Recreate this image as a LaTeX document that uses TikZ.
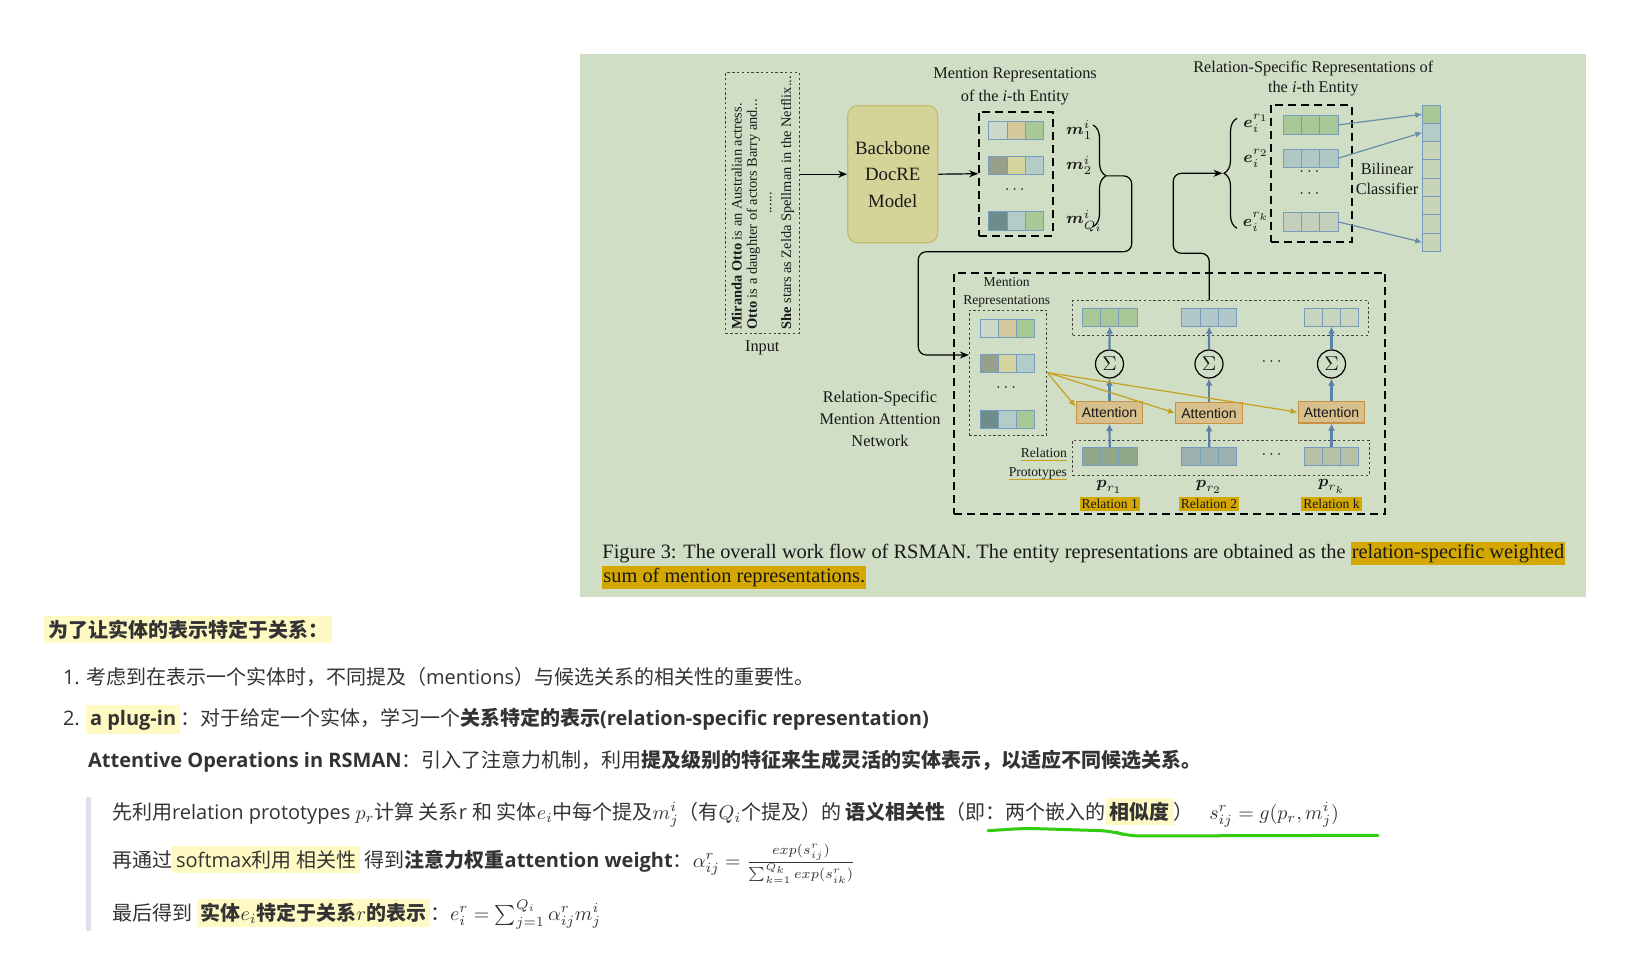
\documentclass[tikz,border=0pt]{standalone}
\usepackage[no-math]{fontspec}
\usepackage{amsmath,amssymb}
\usepackage{tikz}
\usepackage{xcolor}
\setmainfont{Liberation Serif}
\setsansfont{Liberation Sans}
\newfontfamily\osans{Open Sans}
\newfontfamily\cjk{Noto Sans CJK SC}
\usetikzlibrary{arrows.meta,positioning,decorations.pathreplacing}

\definecolor{panelbg}{RGB}{207,222,196}
\definecolor{figtext}{RGB}{25,25,25}
\definecolor{backfill}{RGB}{213,212,152}
\definecolor{backline}{RGB}{196,188,112}
\definecolor{cellline}{RGB}{120,156,190}
\definecolor{attnfill}{RGB}{216,192,140}
\definecolor{attnline}{RGB}{200,146,70}
\definecolor{bluearr}{RGB}{90,130,168}
\definecolor{thinblue}{RGB}{106,140,173}
\definecolor{goldarr}{RGB}{200,160,32}
\definecolor{capgold}{RGB}{212,168,0}
\definecolor{hlyellow}{RGB}{255,249,196}
\definecolor{quotebar}{RGB}{222,224,240}
\definecolor{bodytext}{RGB}{51,51,51}
\definecolor{markgreen}{RGB}{52,204,16}
% cell colours
\definecolor{mgray}{RGB}{204,216,200}
\definecolor{mtan}{RGB}{212,200,156}
\definecolor{mgreen}{RGB}{168,200,152}
\definecolor{molive}{RGB}{152,160,140}
\definecolor{myellow}{RGB}{212,212,156}
\definecolor{mblue}{RGB}{180,204,200}
\definecolor{mteal}{RGB}{110,140,140}
\definecolor{vgreen}{RGB}{168,200,152}
\definecolor{vblue}{RGB}{176,200,200}
\definecolor{vpale}{RGB}{200,214,192}
\definecolor{eblue}{RGB}{176,200,196}
\definecolor{epale}{RGB}{196,208,188}
\definecolor{clspale}{RGB}{200,212,184}
\definecolor{pgreen}{RGB}{144,168,136}
\definecolor{pblue}{RGB}{156,176,176}
\definecolor{pgray}{RGB}{184,192,168}

% three-cell embedding: name, centre, left/middle/right fill
\newcommand{\trivec}[5]{%
  \node[cell, fill=#4] (#1-2) at (#2) {};
  \node[cell, fill=#3, left=0pt of #1-2] (#1-1) {};
  \node[cell, fill=#5, right=0pt of #1-2] (#1-3) {};}
\newcommand{\capmark}[1]{{\setlength{\fboxsep}{0.5pt}\colorbox{capgold}{\strut #1}}}
\newcommand{\hly}[1]{{\setlength{\fboxsep}{2pt}\colorbox{hlyellow}{\vphantom{\cjk 国}#1}}}
\newsavebox{\gulbox}
\newcommand{\gul}[1]{\sbox\gulbox{#1}\rlap{\color{goldarr}\rule[-1.8pt]{\wd\gulbox}{0.7pt}}\usebox\gulbox}

\begin{document}
\begin{tikzpicture}[x=0.5pt, y=-0.5pt,
    every node/.style={font=\fontsize{8.15}{10}\selectfont, text=figtext},
    cell/.style={draw=cellline, line width=0.5pt, minimum width=9.15pt, minimum height=9.15pt, inner sep=0pt, outer sep=0pt},
    dashbox/.style={draw=black, line width=0.9pt, dash pattern=on 4pt off 2.5pt},
    dotbox/.style={draw=black!75, line width=0.5pt, dash pattern=on 1.2pt off 1.2pt},
    sent/.style={rotate=90, inner sep=0pt, font=\fontsize{7.2}{8}\selectfont},
    attn/.style={draw=attnline, fill=attnfill, line width=0.6pt, minimum width=33.3pt, minimum height=10.8pt, inner sep=0pt, font=\sffamily\fontsize{7}{8}\selectfont},
    sumnode/.style={circle, draw, line width=0.6pt, minimum size=14pt, inner sep=0pt, font=\fontsize{10}{10}\selectfont},
    relbox/.style={fill=capgold, inner sep=1pt, font=\fontsize{6.8}{8}\selectfont},
    upflow/.style={-{Latex[length=3.5pt,width=3.5pt]}, line width=1.1pt, draw=bluearr},
    toattn/.style={-{Latex[length=3.5pt,width=3pt]}, line width=0.6pt, draw=goldarr},
    tocls/.style={-{Latex[length=3.5pt,width=3pt]}, line width=0.6pt, draw=thinblue},
    link/.style={-{Stealth[length=4.5pt,width=3.5pt]}, line width=0.6pt, rounded corners=4pt},
    body/.style={anchor=base west, inner sep=0pt, text=bodytext, font=\osans\fontsize{10}{12.5}\selectfont}]

    \fill[white] (0,0) rectangle (1637,957);
    \fill[panelbg] (580,54) rectangle (1586,597);

    % input document
    \node[dotbox, minimum width=36.7pt, minimum height=130.3pt] (inbox) at (762.3,203) {};
    \node[below=0pt of inbox] (inlbl) {Input};
    \node[sent, anchor=west] (sent1) at (736.7,330) {\textbf{Miranda Otto} is an Australian actress.};
    \node[sent, anchor=west] (sent2) at (753.3,330) {\textbf{Otto} is a daughter of actors Barry and...};
    \node[sent] (sentdots) at (770.7,203) {......};
    \node[sent, anchor=west] (sent3) at (787.7,330) {\textbf{She} stars as Zelda Spellman in the Netflix...};

    % backbone and mention representations
    \node[draw=backline, fill=backfill, rounded corners=5pt, line width=0.6pt, minimum width=45pt, minimum height=68.5pt, align=center, font=\fontsize{9.4}{13.3}\selectfont] (backbone) at (892.7,174.2) {Backbone\\DocRE\\Model};
    \node[dashbox, minimum width=36.85pt, minimum height=62pt] (mbox) at (1015.9,173.7) {};
    \node[align=center, font=\fontsize{8.15}{11.3}\selectfont] (mtitle) at (1015,86.5) {Mention Representations\\of the \textit{i}-th Entity};
    \trivec{m1}{1016.2,130.2}{mgray}{mtan}{mgreen}
    \trivec{m2}{1016.2,165.5}{molive}{myellow}{mblue}
    \node (mdots) at (1016.2,190) {$\cdots$};
    \trivec{mq}{1016.2,220.9}{mteal}{mblue}{mgreen}
    \node[anchor=west] (m1l) at (1059,130.2) {$\boldsymbol{m}_1^i$};
    \node[anchor=west] (m2l) at (1059,165.5) {$\boldsymbol{m}_2^i$};
    \node[anchor=west] (mql) at (1059,220.9) {$\boldsymbol{m}_{Q_i}^i$};
    \draw[decorate, decoration={brace, amplitude=6.5pt}, line width=0.6pt] (1093,125) -- (1093,226.7);
    \coordinate (mtip) at (1107,175.9);

    \draw[link] (inbox.east |- backbone.west) -- (backbone.west);
    \draw[link] (backbone.east) -- (mbox.west);

    % relation-specific mention attention network
    \node[dashbox, minimum width=215.5pt, minimum height=120.8pt] (rsman) at (1169.5,393.5) {};
    \node[align=center, font=\fontsize{8.15}{10.85}\selectfont] (rsmanlbl) at (880,419) {Relation-Specific\\Mention Attention\\Network};
    \node[align=center, font=\fontsize{6.8}{9.2}\selectfont] (mrtitle) at (1006.7,292.5) {Mention\\Representations};
    \node[dotbox, minimum width=38.7pt, minimum height=62.5pt] (mrbox) at (1008,372.5) {};
    \trivec{r1}{1007.5,328.2}{mgray}{mtan}{mgreen}
    \trivec{r2}{1007.5,363.5}{molive}{myellow}{mblue}
    \node (rdots) at (1007.5,388) {$\cdots$};
    \trivec{r3}{1007.5,419.2}{mteal}{mblue}{mgreen}

    \node[dotbox, minimum width=147.8pt, minimum height=17.15pt] (outbox) at (1220.5,317.85) {};
    \trivec{v1}{1109.7,317.5}{vgreen}{vgreen}{vgreen}
    \trivec{v2}{1209.2,317.5}{vblue}{vblue}{vblue}
    \trivec{vk}{1331.5,317.5}{vpale}{vpale}{vpale}

    \node[sumnode] (sum1) at (1109.5,364) {$\Sigma$};
    \node[sumnode] (sum2) at (1209,364) {$\Sigma$};
    \node[sumnode] (sumk) at (1331.5,364) {$\Sigma$};
    \node (sdots) at (1273,362) {$\cdots$};

    \node[attn] (att1) at (1109.5,412.5) {Attention};
    \node[attn] (att2) at (1209,413) {Attention};
    \node[attn] (attk) at (1331.5,412.2) {Attention};

    \node[dotbox, minimum width=148.15pt, minimum height=17.5pt] (pbox) at (1220.9,457.5) {};
    \trivec{p1}{1109.7,456.5}{pgreen}{pgreen}{pgreen}
    \trivec{p2}{1209.2,456.5}{pblue}{pblue}{pblue}
    \trivec{pk}{1331.5,456.5}{pgray}{pgray}{pgray}
    \node (pdots) at (1273,455) {$\cdots$};
    \node (p1l) at (1109.5,486.7) {$\boldsymbol{p}_{r_1}$};
    \node (p2l) at (1209,486.7) {$\boldsymbol{p}_{r_2}$};
    \node (pkl) at (1331.5,486.7) {$\boldsymbol{p}_{r_k}$};
    \node[relbox] (rel1) at (1109.7,504) {Relation 1};
    \node[relbox] (rel2) at (1209,504) {Relation 2};
    \node[relbox] (relk) at (1331.5,504) {Relation k};
    \node[align=right, anchor=east, font=\fontsize{6.8}{9.5}\selectfont] (protolbl) at (1074,464) {\gul{Relation}\\\gul{Prototypes}};

    \draw[upflow] (p1-2.north) -- (att1.south);
    \draw[upflow] (att1.north) -- (sum1.south);
    \draw[upflow] (sum1.north) -- (v1-2.south);
    \draw[upflow] (p2-2.north) -- (att2.south);
    \draw[upflow] (att2.north) -- (sum2.south);
    \draw[upflow] (sum2.north) -- (v2-2.south);
    \draw[upflow] (pk-2.north) -- (attk.south);
    \draw[upflow] (attk.north) -- (sumk.south);
    \draw[upflow] (sumk.north) -- (vk-2.south);

    \draw[toattn] (mrbox.east) -- (att1.170);
    \draw[toattn] (mrbox.east) -- (att2.west);
    \draw[toattn] (mrbox.east) -- (attk.west);

    \coordinate (bendA) at (1131.7,251.7);
    \coordinate (bendB) at (918.3,355);
    \draw[link] (mtip) -| (bendA) -| (bendB) -- (bendB -| mrbox.west);

    % relation-specific entity representations
    \node[align=center] (etitle) at (1313.3,78.3) {Relation-Specific Representations of\\the \textit{i}-th Entity};
    \node[dashbox, minimum width=40.5pt, minimum height=68.35pt] (ebox) at (1311.2,173.4) {};
    \trivec{e1}{1310.8,124.9}{vgreen}{vgreen}{vgreen}
    \trivec{e2}{1310.8,158.2}{eblue}{eblue}{eblue}
    \node (edots1) at (1310.8,172) {$\cdots$};
    \node (edots2) at (1310.8,194) {$\cdots$};
    \trivec{ek}{1310.8,221.9}{epale}{epale}{epale}
    \node (e1l) at (1256,123.5) {$\boldsymbol{e}_i^{r_1}$};
    \node (e2l) at (1256,158.5) {$\boldsymbol{e}_i^{r_2}$};
    \node (ekl) at (1256,222) {$\boldsymbol{e}_i^{r_k}$};
    \draw[decorate, decoration={brace, amplitude=6.5pt}, line width=0.6pt] (1237,228.3) -- (1237,118.3);
    \coordinate (etip) at (1222.5,173.3);
    \coordinate (bendC) at (1173.3,253.3);
    \draw[link] (v2-2.north |- outbox.north) |- (bendC) |- (etip);

    % bilinear classifier
    \node[cell, fill=vgreen] (cls1) at (1431.5,114.2) {};
    \node[cell, fill=mblue, below=0pt of cls1] (cls2) {};
    \node[cell, fill=clspale, below=0pt of cls2] (cls3) {};
    \node[cell, fill=clspale, below=0pt of cls3] (cls4) {};
    \node[cell, fill=clspale, below=0pt of cls4] (cls5) {};
    \node[cell, fill=clspale, below=0pt of cls5] (cls6) {};
    \node[cell, fill=clspale, below=0pt of cls6] (cls7) {};
    \node[cell, fill=clspale, below=0pt of cls7] (cls8) {};
    \node[align=center] (bilin) at (1387,179.3) {Bilinear\\Classifier};
    \draw[tocls] (e1-3.east) -- (cls1.west);
    \draw[tocls] (e2-3.east) -- (cls2.west);
    \draw[tocls] (ek-3.east) -- (cls8.west);

    % caption
    \node[anchor=base west, inner sep=0pt, font=\fontsize{10.2}{10.5}\selectfont] (cap1) at (602,558) {Figure 3: The overall work flow of RSMAN. The entity representations are obtained as the \capmark{relation-specific weighted}};
    \node[anchor=base west, inner sep=0pt, font=\fontsize{10.2}{10.5}\selectfont] (cap2) at (602,582) {\capmark{sum of mention representations.}};

    % notes below the figure
    \fill[quotebar] (86,797) rectangle (90.5,931);
    \node[body] (head) at (44,637) {\hly{\cjk\bfseries 为了让实体的表示特定于关系：}};
    \node[body] (item1) at (62.6,684) {\makebox[11.5pt][l]{1.}{\cjk 考虑到在表示一个实体时，不同提及（}mentions{\cjk ）与候选关系的相关性的重要性。}};
    \node[body] (item2) at (62.6,725) {\makebox[11.5pt][l]{2.}\hly{\bfseries a plug-in}{\cjk ：对于给定一个实体，学习一个\bfseries 关系特定的表示}\textbf{(relation-specific representation)}};
    \node[body] (attop) at (87.7,767) {\textbf{Attentive Operations in RSMAN}{\cjk ：引入了注意力机制，利用\bfseries 提及级别的特征来生成灵活的实体表示，以适应不同候选关系。}};
    \node[body] (qa) at (111.7,819) {{\cjk 先利用}relation prototypes $p_r${\cjk 计算 关系}r {\cjk 和 实体}$e_i${\cjk 中每个提及}$m_j^i${\cjk （有}$Q_i${\cjk 个提及）的 \bfseries 语义相关性}{\cjk （即：两个嵌入的}\hly{\cjk\bfseries 相似度}{\cjk ）}\ \ \ $s_{ij}^r = g(p_r, m_j^i)$};
    \node[body] (qb) at (111.7,867) {{\cjk 再通过}\hly{softmax{\cjk 利用 相关性}}{\cjk\ 得到\bfseries 注意力权重}\textbf{attention weight}{\cjk ：}$\alpha_{ij}^r = \frac{exp(s_{ij}^r)}{\sum_{k=1}^{Q_k} exp(s_{ik}^r)}$};
    \node[body] (qc) at (111.7,920) {{\cjk 最后得到 }\hly{{\cjk\bfseries 实体}$e_i${\cjk\bfseries 特定于关系}$r${\cjk\bfseries 的表示}}{\cjk ：}$e_i^r = \sum_{j=1}^{Q_i} \alpha_{ij}^r m_j^i$};
    \draw[markgreen, line width=1.5pt, line cap=round, rounded corners=6pt] (988,830.7) -- (1025,828.3) -- (1112,831) -- (1128,836) -- (1378,835.3);
\end{tikzpicture}
\end{document}
